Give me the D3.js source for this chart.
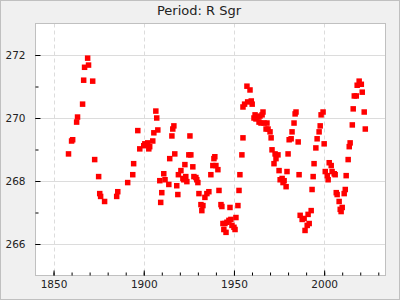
<!DOCTYPE html>
<html><head><meta charset="utf-8">
<script src="https://cdn.jsdelivr.net/npm/d3@7"></script>
<style>html,body{margin:0;padding:0;background:#f0f0f0;}svg{display:block;}</style>
</head><body>
<script>
const title = "Period: R Sgr";
const years = [1858.3,1860.0,1860.6,1862.8,1863.3,1866.1,1866.7,1867.2,1868.9,1869.4,1871.7,1872.8,1875.0,1875.6,1876.1,1878.3,1885.0,1885.6,1891.1,1893.9,1894.4,
1896.7,1897.8,1900.0,1900.6,1901.5,1902.2,1902.8,1903.3,1905.0,1905.6,1906.7,1907.2,1907.8,1908.9,1909.4,1910.0,1911.1,1911.8,1913.9,1914.4,1915.6,1916.1,1916.7,1917.2,
1918.3,1918.9,1919.2,1920.6,1921.7,1922.2,1922.8,1923.3,1923.9,1925.0,1925.6,1926.1,1927.2,1927.8,1928.9,1929.4,1930.0,1930.6,1931.7,1932.2,1932.8,1933.9,1935.0,1936.1,
1937.2,1938.3,1938.9,1939.4,1940.0,1941.1,1941.7,1942.8,1943.3,1943.9,1944.4,1945.0,1945.6,1946.1,1947.2,1947.8,1948.3,1948.9,1950.0,1950.6,1951.1,1952.2,1952.8,1953.3,
1954.4,1955.0,1955.0,1955.9,1957.2,1957.6,1958.9,1959.6,1960.1,1961.1,1961.7,1962.2,1963.3,1963.9,1964.4,1965.0,1965.6,1966.1,1966.7,1967.8,1968.3,1968.9,1970.0,1970.6,
1971.1,1972.2,1972.8,1973.3,1974.4,1975.0,1975.6,1976.7,1977.2,1977.8,1978.9,1979.4,1980.0,1980.6,1981.7,1982.2,1983.3,1983.9,1984.4,1985.6,1986.1,1986.7,1987.8,1988.9,
1989.4,1990.6,1991.1,1991.7,1992.8,1993.3,1993.9,1994.4,1995.4,1996.1,1997.2,1997.8,1998.3,1999.4,2000.0,2000.6,2001.7,2002.2,2002.8,2003.9,2004.4,2005.6,2006.1,2006.7,
2007.2,2008.3,2008.9,2009.4,2010.0,2011.1,2011.7,2012.2,2013.3,2013.9,2014.4,2015.6,2016.1,2016.7,2017.8,2018.3,2019.4,2020.6,2021.1,2022.2,2022.8];
const periods = [268.86,269.27,269.31,269.87,270.03,270.44,271.20,271.61,271.90,271.68,271.17,268.68,268.14,267.60,267.51,267.35,267.51,267.66,267.95,268.20,268.55,
269.60,269.02,269.12,269.18,269.15,269.21,269.02,269.09,269.27,269.53,270.22,270.00,269.62,268.01,267.32,267.63,268.23,268.04,267.89,268.71,269.43,269.65,269.75,268.86,
267.85,267.57,268.20,268.33,268.08,268.04,268.52,268.14,267.98,268.83,269.43,268.83,268.45,268.14,268.11,268.04,267.95,267.60,267.25,267.06,267.22,267.48,267.60,267.66,
268.20,268.49,268.71,268.77,268.49,268.36,267.70,267.25,267.19,266.65,266.46,266.65,266.37,266.69,266.75,267.16,266.78,266.59,266.53,266.46,266.84,267.22,267.70,268.20,
268.83,269.37,270.35,270.44,271.01,270.51,270.89,270.54,270.44,270.00,270.10,269.97,270.03,269.87,270.06,269.84,270.10,270.19,269.84,269.65,269.84,269.65,269.56,269.37,
268.99,268.55,268.86,268.71,268.83,268.33,268.04,268.08,267.95,268.01,267.82,268.30,268.86,269.31,269.34,269.56,269.84,270.13,270.19,269.24,268.20,266.91,266.78,266.81,
266.43,266.59,266.94,266.65,267.06,267.73,268.14,268.55,269.05,269.34,269.56,269.75,270.10,270.19,269.18,268.30,268.17,268.04,268.58,268.49,268.30,268.23,268.20,267.63,
267.57,267.35,267.10,267.03,267.16,267.60,267.73,268.17,268.68,269.09,269.21,269.78,270.29,270.70,270.70,271.04,271.17,271.07,270.82,270.19,269.65];
const xMajorTicks = [1850,1900,1950,2000];
const xMinorTicks = [1850,1860,1870,1880,1890,1900,1910,1920,1930,1940,1950,1960,1970,1980,1990,2000,2010,2020,2030];
const yMajorTicks = [266,268,270,272];
const yMinorTicks = [266,267,268,269,270,271,272];

const W = 400, H = 300;
const L = 35.5, R = 385.5, T = 23.5, B = 275.5;
const svg = d3.select("body").append("svg").attr("width", W).attr("height", H);
svg.append("rect").attr("x",0.5).attr("y",0.5).attr("width",W-1).attr("height",H-1)
  .attr("fill","#f0f0f0").attr("stroke","#c0c0c0");
const x = d3.scaleLinear().domain([1840, 2034]).range([L, R]);
const y = d3.scaleLinear().domain([265, 273]).range([B, T]);

svg.append("rect").attr("x",L).attr("y",T).attr("width",R-L).attr("height",B-T).attr("fill","#fff");
// grid
svg.append("g").selectAll("line").data(yMajorTicks).join("line")
  .attr("x1",L).attr("x2",R).attr("y1",d=>Math.round(y(d))+0.5).attr("y2",d=>Math.round(y(d))+0.5)
  .attr("stroke","#dcdcdc").attr("stroke-width",1);
svg.append("g").selectAll("line").data(xMajorTicks).join("line")
  .attr("y1",T).attr("y2",B).attr("x1",d=>Math.round(x(d))+0.5).attr("x2",d=>Math.round(x(d))+0.5)
  .attr("stroke","#dcdcdc").attr("stroke-width",1).attr("stroke-dasharray","4,3");
// border
svg.append("rect").attr("x",L).attr("y",T).attr("width",R-L).attr("height",B-T)
  .attr("fill","none").attr("stroke","#c0c0c0");

// axes with inward ticks
const font = "DejaVu Sans, sans-serif";
const xAxisMinor = d3.axisBottom(x).tickValues(xMinorTicks).tickSize(-3).tickFormat("");
const gxm = svg.append("g").attr("transform",`translate(0,${B})`).call(xAxisMinor);
const xAxis = d3.axisBottom(x).tickValues(xMajorTicks).tickSize(-5).tickPadding(5).tickFormat(d3.format("d"));
const gx = svg.append("g").attr("transform",`translate(0,${B})`).call(xAxis);
const yAxisMinor = d3.axisLeft(y).tickValues(yMinorTicks).tickSize(-3).tickFormat("");
const gym = svg.append("g").attr("transform",`translate(${L},0)`).call(yAxisMinor);
const yAxis = d3.axisLeft(y).tickValues(yMajorTicks).tickSize(-5).tickPadding(10).tickFormat(d3.format("d"));
const gy = svg.append("g").attr("transform",`translate(${L},0)`).call(yAxis);
[gx,gxm,gy,gym].forEach(g=>{
  g.select(".domain").remove();
  g.selectAll(".tick line").attr("stroke","#000");
  g.selectAll(".tick text").attr("fill","#222").style("font-family",font).style("font-size","10.5px");
});

// points
const s = 5.5;
svg.append("g").selectAll("rect").data(years.map((yr,i)=>[yr,periods[i]])).join("rect")
  .attr("x",d=>x(d[0])-s/2).attr("y",d=>y(d[1])-s/2).attr("width",s).attr("height",s)
  .attr("fill","#ff0000");

svg.append("text").attr("x",199).attr("y",15).attr("text-anchor","middle")
  .style("font-family",font).style("font-size","13px").attr("fill","#222").text(title);
</script>
</body></html>
